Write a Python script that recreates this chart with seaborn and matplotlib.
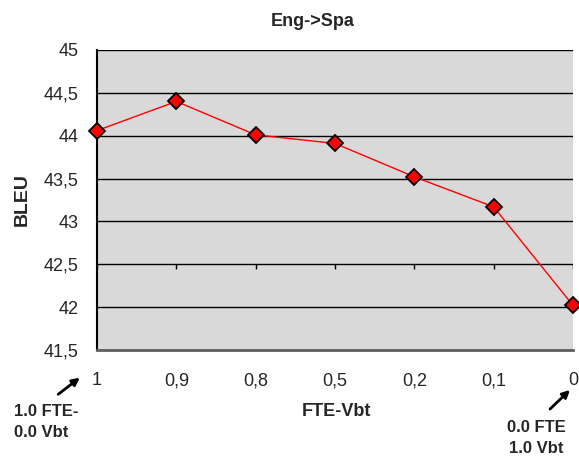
import pandas as pd
import numpy as np
from matplotlib import pyplot as plt
import seaborn as sns


categories = ['1', '0,9', '0,8', '0,5', '0,2', '0,1', '0']
bleu = [44.06, 44.40, 44.01, 43.91, 43.52, 43.17, 42.02]
y_ticks = [41.5, 42.0, 42.5, 43.0, 43.5, 44.0, 44.5, 45.0]
y_labels = ['41,5', '42', '42,5', '43', '43,5', '44', '44,5', '45']


def draw_chart():
    """Eng->Spa BLEU line chart"""
    sns.set_style('white')
    plt.rcParams['font.family'] = ['Liberation Sans', 'DejaVu Sans']

    df = pd.DataFrame({'FTE-Vbt': categories, 'BLEU': bleu})
    df['pos'] = np.arange(len(df))

    fig = plt.figure(figsize=(5.79, 4.57), dpi=100)
    ax = fig.add_axes([97 / 579, 1 - 350 / 457, 476 / 579, 300 / 457])
    ax.set_facecolor('#d9d9d9')

    # horizontal gridlines
    for y in y_ticks:
        ax.axhline(y, color='black', lw=1, zorder=1)

    # category axis crosses at 42,5 with tick marks downward
    ax.vlines(df['pos'], 42.45, 42.5, color='black', lw=1, zorder=1)

    sns.lineplot(data=df, x='pos', y='BLEU', ax=ax, color='red', lw=1,
                 marker='D', markersize=8, markerfacecolor='red',
                 markeredgecolor='black', markeredgewidth=1.3,
                 clip_on=False, zorder=3)

    ax.set_xlim(0, len(df) - 1)
    ax.set_ylim(41.5, 45)
    ax.set_yticks(y_ticks)
    ax.set_yticklabels(y_labels, fontsize=13)
    ax.set_xticks(df['pos'])
    ax.set_xticklabels(categories, fontsize=13)
    ax.tick_params(axis='both', length=0)
    ax.tick_params(axis='y', pad=13)
    ax.tick_params(axis='x', pad=16)

    ax.set_xlabel('')
    ax.set_ylabel('')
    fig.text(22 / 579, 1 - 200 / 457, 'BLEU', rotation=90, fontsize=14,
             fontweight='bold', ha='center', va='center')
    fig.text(336 / 579, 1 - 411 / 457, 'FTE-Vbt', fontsize=13,
             fontweight='bold', ha='center', va='center')
    fig.text(313 / 579, 1 - 21 / 457, 'Eng->Spa', fontsize=13,
             fontweight='bold', ha='center', va='center')

    for side in ['top', 'right']:
        ax.spines[side].set_visible(False)
    ax.spines['left'].set_color('black')
    ax.spines['left'].set_linewidth(1.5)
    ax.spines['bottom'].set_color('#606060')
    ax.spines['bottom'].set_linewidth(2)

    # endpoint notes
    fig.text(14 / 579, 1 - 422 / 457, '1.0 FTE-\n0.0 Vbt', fontsize=12,
             fontweight='bold', ha='left', va='center', linespacing=1.45)
    fig.text(536 / 579, 1 - 438 / 457, '0.0 FTE\n1.0 Vbt', fontsize=12,
             fontweight='bold', ha='center', va='center', linespacing=1.45)
    ax.annotate('', xy=(82 / 579, 1 - 376 / 457), xytext=(56 / 579, 1 - 396 / 457),
                xycoords='figure fraction', textcoords='figure fraction',
                arrowprops=dict(arrowstyle='-|>', color='black', lw=2,
                                mutation_scale=11))
    ax.annotate('', xy=(572 / 579, 1 - 388 / 457), xytext=(548 / 579, 1 - 411 / 457),
                xycoords='figure fraction', textcoords='figure fraction',
                arrowprops=dict(arrowstyle='-|>', color='black', lw=2,
                                mutation_scale=11))

    fig.savefig('out.png', dpi=100)


if __name__ == '__main__':
    draw_chart()
